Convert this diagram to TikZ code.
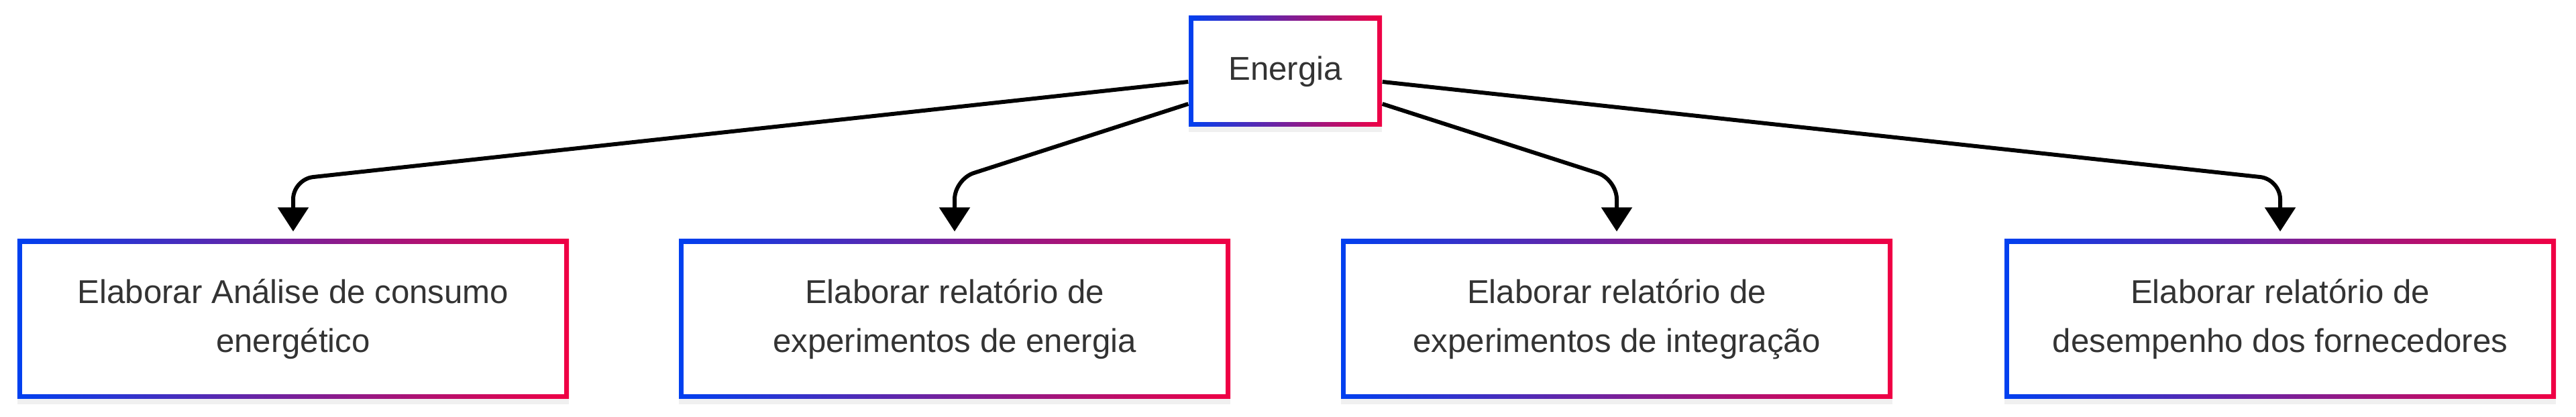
\documentclass[tikz,border=0pt]{standalone}
\usepackage{fontspec}
\setmainfont{Liberation Sans}
\definecolor{BoxBlue}{HTML}{0040F0}
\definecolor{BoxRed}{HTML}{F00044}
\definecolor{TextGray}{HTML}{333333}
\usepackage{tikz}
\usetikzlibrary{arrows.meta, positioning, shadows}

\tikzset{
  gradbox/.style={rectangle, inner sep=0pt, align=center, text=TextGray,
    font=\fontsize{14}{20.8}\selectfont,
    left color=BoxBlue, right color=BoxRed,
    drop shadow={opacity=0.12, shadow xshift=0cm, shadow yshift=-0.08cm},
    path picture={\fill[white] ([shift={(0.07,0.07)}]path picture bounding box.south west)
      rectangle ([shift={(-0.07,-0.07)}]path picture bounding box.north east);}},
  topbox/.style={gradbox, minimum width=2.88cm, minimum height=1.65cm},
  taskbox/.style={gradbox, minimum width=8.22cm, minimum height=2.38cm},
  link/.style={line width=0.06cm, rounded corners=0.3cm,
    -{Triangle[length=0.36cm, width=0.45cm]}}
}

\begin{document}
\begin{tikzpicture}
  \useasboundingbox (0,0) rectangle (38.4,-6.22);
  % Energia
  \node[topbox] (energia) at (19.16,-1.065) {Energia};
  % relatorios
  \node[taskbox] (analise) at (4.37,-4.76) {Elaborar Análise de consumo\\energético};
  \node[taskbox] (relenergia) at (14.23,-4.76) {Elaborar relatório de\\experimentos de energia};
  \node[taskbox] (relintegr) at (24.10,-4.76) {Elaborar relatório de\\experimentos de integração};
  \node[taskbox] (relforn) at (33.99,-4.76) {Elaborar relatório de\\desempenho dos fornecedores};
  % ligacoes
  \draw[link] ([yshift=-0.155cm]energia.west) -- ([yshift=0.89cm]analise.north) -- ([yshift=0.11cm]analise.north);
  \draw[link] ([yshift=-0.485cm]energia.west) -- ([yshift=0.89cm]relenergia.north) -- ([yshift=0.11cm]relenergia.north);
  \draw[link] ([yshift=-0.485cm]energia.east) -- ([yshift=0.89cm]relintegr.north) -- ([yshift=0.11cm]relintegr.north);
  \draw[link] ([yshift=-0.155cm]energia.east) -- ([yshift=0.89cm]relforn.north) -- ([yshift=0.11cm]relforn.north);
\end{tikzpicture}
\end{document}
